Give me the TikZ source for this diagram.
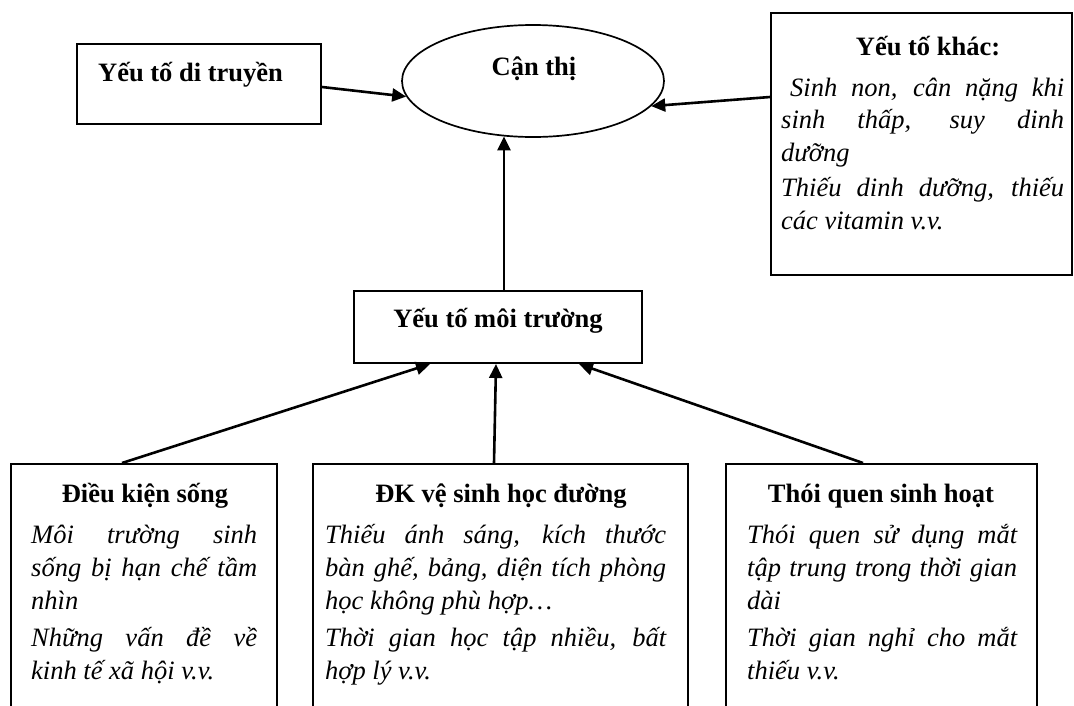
\documentclass[tikz,border=0pt]{standalone}
\usepackage{fontspec}
\setmainfont{Liberation Serif}
\usetikzlibrary{arrows.meta,shapes.geometric}
\setlength{\parindent}{0pt}
\begin{document}
\begin{tikzpicture}[x=1pt,y=-1pt,
  box/.style={draw,line width=2pt,rectangle,inner sep=0pt},
  head/.style={font=\fontsize{26.5}{32}\selectfont\bfseries,anchor=base,inner sep=0pt},
  body/.style={font=\fontsize{26.5}{32.5}\selectfont\itshape,anchor=base west,inner sep=0pt,align=justify},
  lowbody/.style={body,font=\fontsize{26.5}{33}\selectfont\itshape},
  conn/.style={line width=2.6pt,-{Triangle[length=14pt,width=13pt]}}]
\useasboundingbox (0,0) rectangle (1074,705);
\fill[white] (0,0) rectangle (1074,705);
\clip (0,0) rectangle (1074,705);

% top row
\node[box,minimum width=244pt,minimum height=80pt] (dt) at (199,84) {};
\node[head] (dtt) at (190.5,81) {Yếu tố di truyền};
\node[draw,ellipse,line width=1.7pt,minimum width=262pt,minimum height=112pt,inner sep=0pt] (ct) at (533,81) {};
\node[head] (ctt) at (534,75) {Cận thị};
\node[box,minimum width=301pt,minimum height=262pt] (kh) at (921.5,144) {};
\node[head] (kht) at (928,55) {Yếu tố khác:};
\node[body,text width=283pt] (khb) at (781,96) {\parskip=3pt\hspace*{9pt}Sinh non, cân nặng khi\linebreak sinh thấp, suy dinh\linebreak dưỡng\par Thiếu dinh dưỡng, thiếu\linebreak các vitamin v.v.};

% middle
\node[box,minimum width=288pt,minimum height=72pt] (mt) at (498,327) {};
\node[head] (mtt) at (498,327) {Yếu tố môi trường};

% bottom row
\node[box,minimum width=266pt,minimum height=256pt] (dk) at (144,592) {};
\node[head] (dkt) at (145,502) {Điều kiện sống};
\node[lowbody,text width=226pt] (dkb) at (31,543) {\parskip=4pt Môi trường sinh\linebreak sống bị hạn chế tầm\linebreak nhìn\par Những vấn đề về\linebreak kinh tế xã hội v.v.};

\node[box,minimum width=375pt,minimum height=256pt] (vs) at (500.5,592) {};
\node[head] (vst) at (501,502) {ĐK vệ sinh học đường};
\node[lowbody,text width=341pt] (vsb) at (325,543) {\parskip=4pt Thiếu ánh sáng, kích thước\linebreak bàn ghế, bảng, diện tích phòng\linebreak học không phù hợp…\par Thời gian học tập nhiều, bất\linebreak hợp lý v.v.};

\node[box,minimum width=311pt,minimum height=256pt] (tq) at (881.5,592) {};
\node[head] (tqt) at (881,502) {Thói quen sinh hoạt};
\node[lowbody,text width=270pt] (tqb) at (747,543) {\parskip=4pt Thói quen sử dụng mắt\linebreak tập trung trong thời gian\linebreak dài\par Thời gian nghỉ cho mắt\linebreak thiếu v.v.};

% connectors
\draw[conn] ([yshift=-3pt]dt.east) -- (ct.187);
\draw[conn] ([yshift=47pt]kh.west) -- (ct.348);
\draw[conn] ([xshift=6pt]mt.north) -- ([xshift=-29pt,yshift=1.4pt]ct.south);
\draw[conn] ([xshift=-22pt]dk.north) -- ([xshift=-68pt]mt.south);
\draw[conn] ([xshift=-6.5pt]vs.north) -- ([xshift=-2pt]mt.south);
\draw[conn] ([xshift=-18.5pt]tq.north) -- ([xshift=81pt]mt.south);
\end{tikzpicture}
\end{document}
